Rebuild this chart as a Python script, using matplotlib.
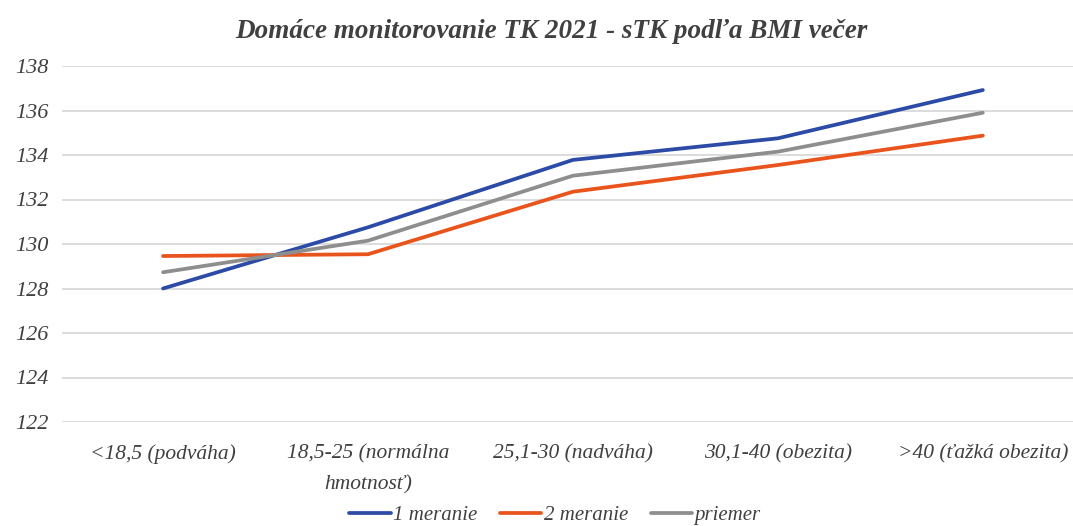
import matplotlib; matplotlib.use('Agg')
import matplotlib.pyplot as plt

categories = ['<18,5 (podváha)', '18,5-25 (normálna\nhmotnosť)', '25,1-30 (nadváha)',
              '30,1-40 (obezita)', '>40 (ťažká obezita)']
meranie1 = [128.0, 130.75, 133.78, 134.75, 136.92]
meranie2 = [129.46, 129.54, 132.35, 133.55, 134.87]
priemer = [128.73, 130.15, 133.07, 134.15, 135.9]
yticks = [122, 124, 126, 128, 130, 132, 134, 136, 138]

txt = '#404040'
plt.rcParams['font.family'] = ['Liberation Serif', 'DejaVu Serif']

fig = plt.figure(figsize=(10.73, 5.26), dpi=100)
W, H = 1073, 526
ax = fig.add_axes([62 / W, 1 - 422 / H, (W - 62) / W, (422 - 66) / H])

x = range(len(categories))
ax.plot(x, meranie1, color='#2B4BA6', lw=2.7, label='1 meranie', solid_capstyle='round')
ax.plot(x, meranie2, color='#E9531C', lw=2.7, label='2 meranie', solid_capstyle='round')
ax.plot(x, priemer, color='#8E8E8E', lw=2.7, label='priemer', solid_capstyle='round')

ax.set_xlim(-0.493, 4.44)
ax.set_ylim(122, 138)
ax.set_yticks(yticks)
ax.set_xticks(list(x))
ax.set_xticklabels(categories, style='italic', fontsize=15.5, color=txt, linespacing=1.85)
ax.set_yticklabels([str(v) for v in yticks], style='italic', fontsize=16, color=txt)
ax.grid(axis='y', color='#d9d9d9', lw=1.3)
ax.set_axisbelow(True)
for s in ax.spines.values():
    s.set_visible(False)
ax.tick_params(length=0)
ax.tick_params(axis='x', pad=16)
ax.tick_params(axis='y', pad=10)

fig.text(0.514, 0.94, 'Domáce monitorovanie TK 2021 - sTK podľa BMI večer',
         ha='center', va='center', fontsize=19.5, style='italic', weight='bold', color=txt)

leg = fig.legend(loc='center', bbox_to_anchor=(0.517, 0.02), ncol=3, frameon=False,
                 handlelength=2.0, handletextpad=0.1, columnspacing=1.1,
                 prop={'style': 'italic', 'size': 15})
for t in leg.get_texts():
    t.set_color(txt)

fig.savefig('out.png', dpi=100)
